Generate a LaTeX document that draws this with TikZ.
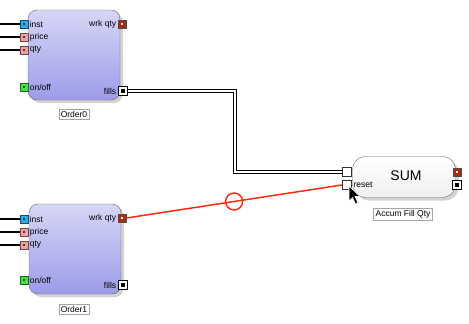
\documentclass[tikz,border=0pt]{standalone}
\usepackage{fontspec}
\setmainfont{Liberation Sans}
\usetikzlibrary{shadows}
\definecolor{blkbot}{HTML}{9C9CEA}
\definecolor{blktop}{HTML}{D6D6F6}
\definecolor{pinst}{HTML}{2FA8E8}
\definecolor{ppink}{HTML}{F0A0A0}
\definecolor{pgreen}{HTML}{44E044}
\definecolor{pred}{HTML}{B0280E}
\definecolor{wire}{HTML}{FF2A10}
\begin{document}
\begin{tikzpicture}[x=1pt,y=-1pt,
  block/.style={draw=gray!80!black, rounded corners=9pt, minimum width=92pt, minimum height=90pt,
     top color=blktop, bottom color=blkbot, drop shadow={opacity=0.35, shadow xshift=3pt, shadow yshift=-3pt}},
  sumblock/.style={draw=gray!80!black, rounded corners=13pt, minimum width=103pt, minimum height=41pt,
     top color=white, bottom color=gray!12, drop shadow={opacity=0.35, shadow xshift=3pt, shadow yshift=-3pt}},
  port/.style={draw=#1!45!black, line width=0.9pt, fill=#1, minimum size=8pt, inner sep=0pt,
     path picture={\fill[#1!35!black] ([xshift=-1.2pt,yshift=-1.2pt]path picture bounding box.center) rectangle ([xshift=1.2pt,yshift=1.2pt]path picture bounding box.center);}},
  wport/.style={draw=black!70, line width=0.9pt, fill=pred, minimum size=8pt, inner sep=0pt,
     path picture={\fill[white] ([xshift=-1.2pt,yshift=-1.2pt]path picture bounding box.center) rectangle ([xshift=1.2pt,yshift=1.2pt]path picture bounding box.center);}},
  fport/.style={draw=black, line width=1.8pt, fill=white, minimum size=9pt, inner sep=0pt,
     path picture={\fill[black] ([xshift=-1.8pt,yshift=-1.8pt]path picture bounding box.center) rectangle ([xshift=1.8pt,yshift=1.8pt]path picture bounding box.center);}},
  hport/.style={draw=gray!40!black, line width=0.9pt, fill=white, minimum size=9.5pt, inner sep=0pt},
  plabel/.style={font=\fontsize{8.5}{9}\selectfont, inner sep=1.2pt},
  caption/.style={draw=gray!70, fill=white, font=\fontsize{8.5}{9}\selectfont, inner sep=2pt},
  inwire/.style={black, line width=1.8pt},
  dbl/.style={draw=black, double=white, double distance=2pt, line width=1.4pt},
  redwire/.style={wire, line width=1.5pt}
]
\useasboundingbox (0,0) rectangle (469,324);
% ---- Order0
\node[block] (o0) at (74,55) {};
\node[port=pinst] (o0i) at (24,24) {};
\node[port=ppink] (o0p) at (24,37) {};
\node[port=ppink] (o0q) at (24,50) {};
\node[port=pgreen] (o0o) at (24,87) {};
\node[wport] (o0w) at (122,24) {};
\node[fport] (o0f) at (123,91) {};
\node[plabel, anchor=west] (o0il) at (o0i.east) {inst};
\node[plabel, anchor=west] (o0pl) at (o0p.east) {price};
\node[plabel, anchor=west] (o0ql) at (o0q.east) {qty};
\node[plabel, anchor=west] (o0ol) at (o0o.east) {on/off};
\node[plabel, anchor=east] (o0wl) at (o0w.west) {wrk qty};
\node[plabel, anchor=east] (o0fl) at (o0f.west) {fills};
\node[caption] (o0c) at (74,114) {Order0};
\coordinate (l0i) at (0,24);
\coordinate (l0p) at (0,37);
\coordinate (l0q) at (0,50);
\draw[inwire] (l0i) -- (o0i.west);
\draw[inwire] (l0p) -- (o0p.west);
\draw[inwire] (l0q) -- (o0q.west);
% ---- Order1
\node[block] (o1) at (75,249) {};
\node[port=pinst] (o1i) at (24,219) {};
\node[port=ppink] (o1p) at (24,232) {};
\node[port=ppink] (o1q) at (24,245) {};
\node[port=pgreen] (o1o) at (24,280) {};
\node[wport] (o1w) at (122,218) {};
\node[fport] (o1f) at (123,285) {};
\node[plabel, anchor=west] (o1il) at (o1i.east) {inst};
\node[plabel, anchor=west] (o1pl) at (o1p.east) {price};
\node[plabel, anchor=west] (o1ql) at (o1q.east) {qty};
\node[plabel, anchor=west] (o1ol) at (o1o.east) {on/off};
\node[plabel, anchor=east] (o1wl) at (o1w.west) {wrk qty};
\node[plabel, anchor=east] (o1fl) at (o1f.west) {fills};
\node[caption] (o1c) at (74,309) {Order1};
\coordinate (l1i) at (0,219);
\coordinate (l1p) at (0,232);
\coordinate (l1q) at (0,245);
\draw[inwire] (l1i) -- (o1i.west);
\draw[inwire] (l1p) -- (o1p.west);
\draw[inwire] (l1q) -- (o1q.west);
% ---- SUM
\node[sumblock] (sum) at (404,177) {};
\node[font=\fontsize{14}{15}\selectfont] (sumt) at (406,176) {SUM};
\node[hport] (s1) at (347,172) {};
\node[hport] (s2) at (347,185) {};
\node[plabel, anchor=west] (s2l) at (s2.east) {reset};
\node[wport] (so1) at (457,172) {};
\node[fport] (so2) at (457,185) {};
\node[caption] (sc) at (403,214) {Accum Fill Qty};
% ---- connectors
\draw[dbl] (o0f.east) -- (235,91) |- (s1.west);
\draw[redwire] (o1w.east) -- (s2.west) node[pos=0.5, circle, draw=wire, line width=1.5pt, minimum size=17pt, inner sep=0pt] (rc) {};
% ---- cursor
\draw[fill=black, draw=white, line width=0.6pt, line join=miter]
  (349,186) -- (349,201) -- (352.5,197.5) -- (355.5,204) -- (358,203) -- (355,196.5) -- (360,196.5) -- cycle;
\end{tikzpicture}
\end{document}
